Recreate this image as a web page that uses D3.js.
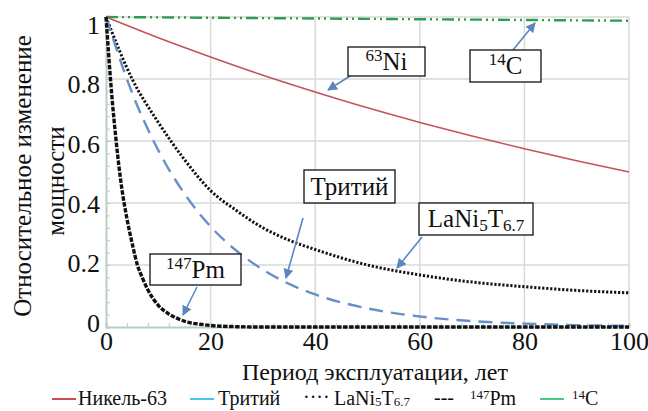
<!DOCTYPE html>
<html>
<head>
<meta charset="utf-8">
<script src="https://cdn.jsdelivr.net/npm/d3@7"></script>
<style>
  body { margin: 0; background: #fff; }
  svg text { font-family: "Liberation Serif"; }
</style>
</head>
<body>
<div id="chart"></div>
<script>
// Relative power vs. operating period (years)
const nickel = [[0, 1], [10, 0.933], [20, 0.871], [30, 0.812], [40, 0.758], [50, 0.707],
  [60, 0.66], [70, 0.616], [80, 0.575], [90, 0.536], [100, 0.5]];
const tritium = [[0, 1], [5, 0.755], [10, 0.57], [15, 0.43], [20, 0.324], [25, 0.245],
  [30, 0.185], [35, 0.139], [40, 0.105], [50, 0.06], [60, 0.034], [70, 0.019],
  [80, 0.011], [90, 0.006], [100, 0.004]];
const lani = [[0, 1], [5, 0.8], [10, 0.66], [15, 0.54], [20, 0.44], [25, 0.375],
  [30, 0.32], [35, 0.28], [40, 0.25], [50, 0.2], [60, 0.168], [70, 0.145],
  [80, 0.13], [90, 0.118], [100, 0.11]];
const promethium = [[0, 1], [1, 0.77], [2, 0.59], [3, 0.45], [4, 0.35], [5, 0.27],
  [6, 0.2], [7, 0.157], [8, 0.12], [10, 0.07], [12, 0.042], [14, 0.025], [16, 0.014],
  [18, 0.009], [20, 0.005], [25, 0.001], [30, 0], [50, 0], [75, 0], [100, 0]];
const carbon = [[0, 1], [50, 0.994], [100, 0.988]];

const xTicks = [0, 20, 40, 60, 80, 100];
const yTicks = [0, 0.2, 0.4, 0.6, 0.8, 1];

const W = 648, H = 411;
const x = d3.scaleLinear().domain([0, 100]).range([106, 629]);
const y = d3.scaleLinear().domain([0, 1]).range([327, 17]);
// tick labels in the picture sit on a slightly tighter spacing than the grid
const yLabel = d3.scaleLinear().domain([0, 1]).range([323, 25]);

const svg = d3.select("#chart").append("svg")
  .attr("width", W).attr("height", H);

// grid
const grid = svg.append("g").attr("stroke", "#d9d9d9").attr("stroke-width", 1.5);
grid.selectAll(".gx").data(xTicks.slice(1)).join("line")
  .attr("x1", d => x(d)).attr("x2", d => x(d))
  .attr("y1", y(0)).attr("y2", y(1));
grid.selectAll(".gy").data(yTicks.slice(1)).join("line")
  .attr("x1", x(0)).attr("x2", x(100))
  .attr("y1", d => y(d)).attr("y2", d => y(d));

// axes with inward minor ticks
const axisColor = "#b9cdc6";
const yMinor = d3.range(0, 1.001, 0.04);
const xMinor = d3.range(0, 100.01, 4);
const axY = svg.append("g").attr("transform", `translate(${x(0)},0)`)
  .call(d3.axisRight(y).tickValues(yMinor).tickSize(4).tickFormat(""));
const axX = svg.append("g").attr("transform", `translate(0,${y(0)})`)
  .call(d3.axisTop(x).tickValues(xMinor).tickSize(4).tickFormat(""));
[axY, axX].forEach(a => {
  a.selectAll("line").attr("stroke", axisColor).attr("stroke-width", 1);
  a.select(".domain").attr("stroke", axisColor).attr("stroke-width", 2);
});

// tick labels
svg.append("g").attr("transform", `translate(100,0)`)
  .call(d3.axisLeft(yLabel).tickValues(yTicks).tickSize(0).tickPadding(0)
    .tickFormat(d => d === 0 || d === 1 ? d3.format("d")(d) : d3.format(".1f")(d)))
  .attr("font-size", 26)
  .call(g => g.select(".domain").remove())
  .selectAll("text").attr("fill", "#111");
svg.append("g").attr("transform", `translate(0,${y(0) + 3})`)
  .call(d3.axisBottom(x).tickValues(xTicks).tickSize(0).tickPadding(2))
  .attr("font-size", 26)
  .call(g => g.select(".domain").remove())
  .selectAll("text").attr("fill", "#111");

// axis titles
svg.append("text").attr("transform", "translate(31,176) rotate(-90)")
  .attr("text-anchor", "middle").attr("font-size", 25).attr("fill", "#111")
  .text("Относительное изменение");
svg.append("text").attr("transform", "translate(64,181) rotate(-90)")
  .attr("text-anchor", "middle").attr("font-size", 25).attr("fill", "#111")
  .text("мощности");
svg.append("text").attr("x", 375).attr("y", 380)
  .attr("text-anchor", "middle").attr("font-size", 24).attr("fill", "#111")
  .text("Период эксплуатации, лет");

// series
const line = d3.line().x(d => x(d[0])).y(d => y(d[1])).curve(d3.curveMonotoneX);
const series = [
  { data: carbon, color: "#2f9d4f", width: 2.4, dash: "12,4,2,4,2,4" },
  { data: nickel, color: "#c4525a", width: 1.6, dash: null },
  { data: lani, color: "#111", width: 3, dash: "2.2,1.8" },
  { data: tritium, color: "#6890c8", width: 2.4, dash: "14,8" },
  { data: promethium, color: "#111", width: 3.4, dash: "4.5,1.5" }
];
svg.append("g").selectAll("path").data(series).join("path")
  .attr("d", d => line(d.data))
  .attr("fill", "none")
  .attr("stroke", d => d.color)
  .attr("stroke-width", d => d.width)
  .attr("stroke-dasharray", d => d.dash);

// callouts
const defs = svg.append("defs");
defs.append("marker").attr("id", "arrow").attr("viewBox", "0 0 10 10")
  .attr("refX", 9).attr("refY", 5)
  .attr("markerUnits", "userSpaceOnUse").attr("orient", "auto")
  .attr("markerWidth", 10).attr("markerHeight", 10)
  .append("path").attr("d", "M0,0L10,5L0,10z").attr("fill", "#5b86c0");

const callouts = [
  { box: [348, 47, 77, 29], label: [["63", true], ["Ni", false]], from: [350, 76], to: [328, 90] },
  { box: [470, 50, 71, 32], label: [["14", true], ["C", false]], from: [513, 50], to: [535, 23] },
  { box: [304, 170, 91, 33], label: [["Тритий", false]], from: [303, 218], to: [286, 278] },
  { box: [419, 203, 114, 32], label: [["LaNi", false], ["5", "sub"], ["T", false], ["6.7", "sub"]], from: [422, 237], to: [397, 268] },
  { box: [150, 254, 91, 31], label: [["147", true], ["Pm", false]], from: [197, 287], to: [183, 315] }
];
const cg = svg.append("g");
callouts.forEach(c => {
  cg.append("line").attr("x1", c.from[0]).attr("y1", c.from[1])
    .attr("x2", c.to[0]).attr("y2", c.to[1])
    .attr("stroke", "#5b86c0").attr("stroke-width", 1.6)
    .attr("marker-end", "url(#arrow)");
  const [bx, by, bw, bh] = c.box;
  cg.append("rect").attr("x", bx).attr("y", by).attr("width", bw).attr("height", bh)
    .attr("fill", "#fff").attr("stroke", "#111").attr("stroke-width", 1.3);
  const t = cg.append("text").attr("x", bx + bw / 2).attr("y", by + bh / 2 + 8)
    .attr("text-anchor", "middle").attr("font-size", 25).attr("fill", "#111");
  c.label.forEach(([s, kind]) => {
    const ts = t.append("tspan").text(s);
    if (kind === true) ts.attr("font-size", 17).attr("baseline-shift", "55%");
    else if (kind === "sub") ts.attr("font-size", 17).attr("baseline-shift", "-25%");
  });
});

// legend
const lg = svg.append("g").attr("font-size", 20).attr("fill", "#111");
const legendItems = [
  { x0: 52, x1: 76, color: "#c00000", tx: 78, label: [["Никель-63", false]] },
  { x0: 190, x1: 214, color: "#00a8e8", tx: 218, label: [["Тритий", false]] },
  { sym: "····", sx: 303, tx: 334, label: [["LaNi", false], ["5", "sub"], ["T", false], ["6.7", "sub"]] },
  { sym: "---", sx: 434, tx: 470, label: [["147", true], ["Pm", false]] },
  { x0: 540, x1: 564, color: "#00b050", tx: 572, label: [["14", true], ["C", false]] }
];
legendItems.forEach(it => {
  if (it.sym) {
    lg.append("text").attr("x", it.sx).attr("y", 404).text(it.sym);
  } else {
    lg.append("line").attr("x1", it.x0).attr("x2", it.x1).attr("y1", 399).attr("y2", 399)
      .attr("stroke", it.color).attr("stroke-width", 1.4);
  }
  const t = lg.append("text").attr("x", it.tx).attr("y", 405);
  it.label.forEach(([s, kind]) => {
    const ts = t.append("tspan").text(s);
    if (kind === true) ts.attr("font-size", 13).attr("baseline-shift", "45%");
    else if (kind === "sub") ts.attr("font-size", 13).attr("baseline-shift", "-10%");
  });
});
</script>
</body>
</html>
